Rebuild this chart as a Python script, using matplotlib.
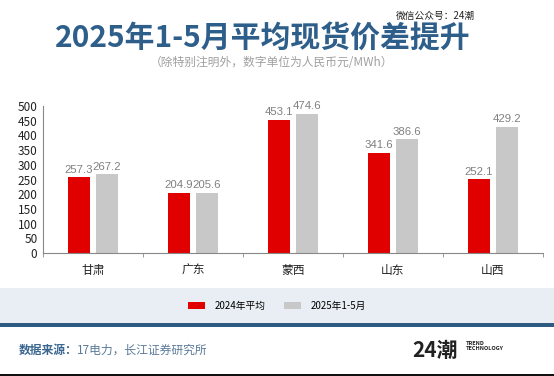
import matplotlib.pyplot as plt
import numpy as np
from matplotlib.patches import Rectangle

plt.rcParams['font.family'] = ['Noto Sans CJK SC', 'DejaVu Sans']

# data
regions = ['甘肃', '广东', '蒙西', '山东', '山西']
avg_2024 = [257.3, 204.9, 453.1, 341.6, 252.1]
avg_2025 = [267.2, 205.6, 474.6, 386.6, 429.2]
series_names = ['2024年平均', '2025年1-5月']
yticks = [0, 50, 100, 150, 200, 250, 300, 350, 400, 450, 500]

red = '#E00000'
grey = '#C8C8C8'
navy = '#2E5E8A'

fig = plt.figure(figsize=(5.54, 3.76), dpi=100)
fig.patch.set_facecolor('white')

# title block
fig.text(0.475, 0.898, '2025年1-5月平均现货价差提升', ha='center', va='center',
         fontsize=21.5, fontweight='bold', color=navy)
fig.text(0.49, 0.833, '（除特别注明外，数字单位为人民币元/MWh）', ha='center', va='center',
         fontsize=8.5, color='#A0A0A0')
fig.text(0.785, 0.957, '微信公众号：24潮', ha='center', va='center',
         fontsize=7, color='#222222')

# chart
ax = fig.add_axes([0.0776, 0.327, 0.9024, 0.391])
x = np.arange(len(regions))
w = 0.22
b1 = ax.bar(x - 0.14, avg_2024, w, color=red, label=series_names[0])
b2 = ax.bar(x + 0.14, avg_2025, w, color=grey, label=series_names[1])
for bars in (b1, b2):
    for r in bars:
        ax.text(r.get_x() + r.get_width() / 2, r.get_height() + 8, f'{r.get_height():.1f}',
                ha='center', va='bottom', fontsize=8.2, color='#808080',
                family='Liberation Sans')

ax.set_xlim(-0.5, len(regions) - 0.5)
ax.set_ylim(0, 500)
ax.set_yticks(yticks)
ax.set_xticks(x)
ax.set_xticklabels(regions)
ax.set_xticks(np.arange(-0.5, len(regions)), minor=True)
ax.tick_params(axis='x', which='major', length=0, pad=8, labelsize=8.5, colors='#222222')
ax.tick_params(axis='x', which='minor', length=3, direction='out', color='#888888')
ax.tick_params(axis='y', length=0, labelsize=8.5, colors='#222222', pad=4)
for s in ['top', 'right']:
    ax.spines[s].set_visible(False)
for s in ['left', 'bottom']:
    ax.spines[s].set_color('#888888')
    ax.spines[s].set_linewidth(0.8)

# legend band
fig.patches.append(Rectangle((0, 1 - 323 / 376), 1, 35 / 376, transform=fig.transFigure,
                             facecolor='#E9EEF4', edgecolor='none', zorder=0))
fig.patches.append(Rectangle((0, 1 - 327 / 376), 1, 4 / 376, transform=fig.transFigure,
                             facecolor='#2F5B82', edgecolor='none', zorder=0))
fig.legend(handles=[b1, b2], loc='center', bbox_to_anchor=(0.5, 1 - 306 / 376), ncol=2,
           frameon=False, fontsize=7, handlelength=1.8, handleheight=0.8,
           columnspacing=1.8, handletextpad=1.0)

# footer
fig.text(0.033, 1 - 350 / 376, '数据来源：', ha='left', va='center', fontsize=8.5,
         fontweight='bold', color='#3A6690')
fig.text(0.138, 1 - 350 / 376, '17电力，长江证券研究所', ha='left', va='center', fontsize=8.5,
         color='#5A7A98')
fig.text(0.785, 1 - 350 / 376, '24潮', ha='center', va='center', fontsize=15,
         fontweight='bold', color='#222222')
fig.text(0.84, 1 - 346 / 376, 'TREND\nTECHNOLOGY', ha='left', va='center', fontsize=4,
         fontweight='bold', color='#222222', linespacing=1.0)
fig.patches.append(Rectangle((0, 0), 1, 2 / 376, transform=fig.transFigure,
                             facecolor='#111111', edgecolor='none', zorder=0))

fig.savefig('out.png', dpi=100)
